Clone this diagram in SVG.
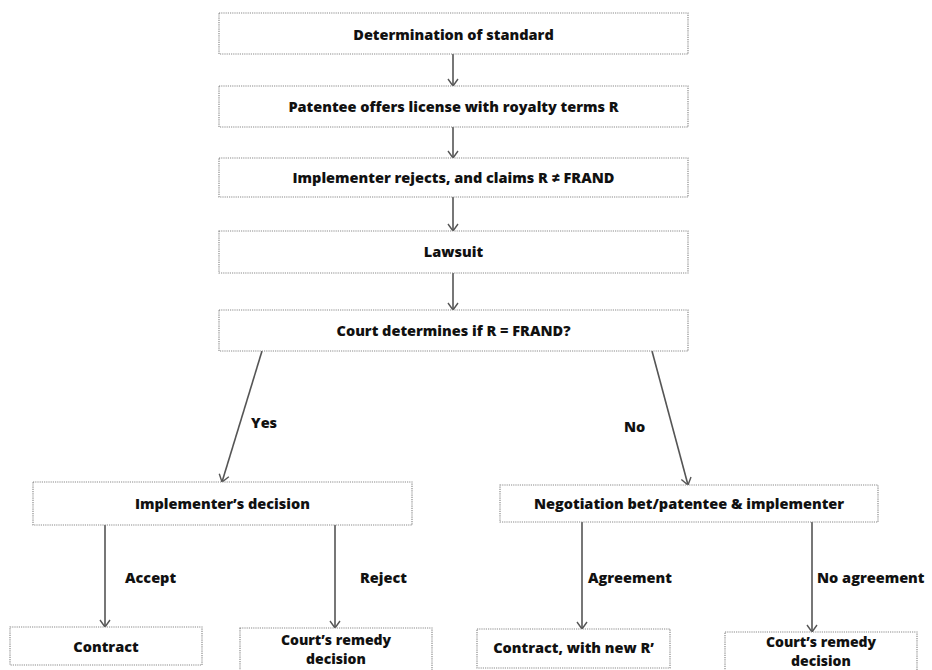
<svg xmlns="http://www.w3.org/2000/svg" width="932" height="670" viewBox="0 0 932 670">
<style>
.box{fill:#fff;stroke:#8a8a8a;stroke-width:1.2;stroke-dasharray:1.2 1}
.t{font-family:"Open Sans","Noto Sans","Liberation Sans",sans-serif;font-weight:800;font-size:14.5px;fill:#111}
.s{font-size:14px}
.c{text-anchor:middle}
.ln{stroke:#555;stroke-width:1.6;fill:none;marker-end:url(#ah)}
</style>
<defs>
<marker id="ah" viewBox="0 0 12 12" refX="11" refY="6" markerWidth="12" markerHeight="12" markerUnits="userSpaceOnUse" orient="auto">
<path d="M4,1 L11,6 L4,11" fill="none" stroke="#555" stroke-width="1.4"/>
</marker>
</defs>
<rect width="932" height="670" fill="#fff"/>
<g id="connectors">
<line class="ln" x1="453" y1="54" x2="453" y2="86"/>
<line class="ln" x1="453" y1="127" x2="453" y2="158"/>
<line class="ln" x1="453" y1="197" x2="453" y2="231"/>
<line class="ln" x1="453" y1="273" x2="453" y2="310"/>
<line class="ln" x1="262" y1="351" x2="222" y2="482"/>
<line class="ln" x1="652" y1="351" x2="688" y2="485"/>
<line class="ln" x1="105" y1="525" x2="105" y2="627"/>
<line class="ln" x1="335" y1="525" x2="335" y2="628"/>
<line class="ln" x1="582" y1="522" x2="582" y2="629"/>
<line class="ln" x1="812" y1="522" x2="812" y2="632"/>
<text class="t" x="251" y="428">Yes</text>
<text class="t" x="624" y="432">No</text>
<text class="t" x="125" y="583">Accept</text>
<text class="t" x="360" y="583">Reject</text>
<text class="t" x="588" y="583">Agreement</text>
<text class="t" x="817" y="583">No agreement</text>
</g>
<g id="n1"><rect class="box" x="219" y="13" width="469" height="41"/><text class="t c" x="453.5" y="40">Determination of standard</text></g>
<g id="n2"><rect class="box" x="219" y="86" width="469" height="41"/><text class="t c" x="453.5" y="112">Patentee offers license with royalty terms R</text></g>
<g id="n3"><rect class="box" x="219" y="158" width="469" height="39"/><text class="t c" x="453.5" y="183">Implementer rejects, and claims R ≠ FRAND</text></g>
<g id="n4"><rect class="box" x="219" y="231" width="469" height="42"/><text class="t c" x="453.5" y="257">Lawsuit</text></g>
<g id="n5"><rect class="box" x="219" y="310" width="469" height="41"/><text class="t c" x="453.5" y="336">Court determines if R = FRAND?</text></g>
<g id="n6"><rect class="box" x="33" y="482" width="379" height="43"/><text class="t c" x="222.5" y="508.5">Implementer’s decision</text></g>
<g id="n7"><rect class="box" x="500" y="485" width="378" height="37"/><text class="t c" x="689" y="508.5">Negotiation  bet/patentee &amp; implementer</text></g>
<g id="n8"><rect class="box" x="10" y="627" width="192" height="38"/><text class="t c" x="106" y="651.5">Contract</text></g>
<g id="n9"><rect class="box" x="240" y="628" width="192" height="44"/><text class="t c s" x="336" y="645">Court’s remedy</text><text class="t c s" x="336" y="664">decision</text></g>
<g id="n10"><rect class="box" x="477" y="629" width="193" height="39"/><text class="t c" x="573.5" y="652.5">Contract, with new R’</text></g>
<g id="n11"><rect class="box" x="725" y="632" width="192" height="40"/><text class="t c s" x="821" y="647">Court’s remedy</text><text class="t c s" x="821" y="666">decision</text></g>
</svg>
